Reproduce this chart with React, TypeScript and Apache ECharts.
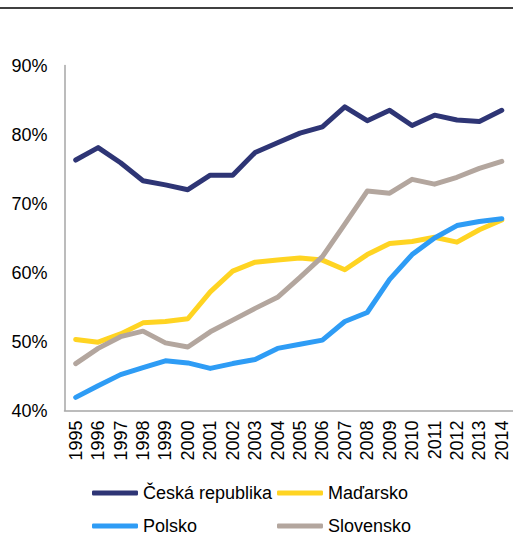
import React, { useEffect, useRef } from "react";
import * as echarts from "echarts";

const years = ["1995","1996","1997","1998","1999","2000","2001","2002","2003","2004","2005","2006","2007","2008","2009","2010","2011","2012","2013","2014"];
const czech = [76.3, 78.1, 75.9, 73.3, 72.7, 72.0, 74.1, 74.1, 77.4, 78.8, 80.2, 81.1, 84.0, 82.0, 83.5, 81.3, 82.8, 82.1, 81.9, 83.5];
const hungary = [50.3, 49.9, 51.1, 52.7, 52.9, 53.3, 57.2, 60.2, 61.5, 61.8, 62.1, 61.8, 60.4, 62.6, 64.2, 64.5, 65.1, 64.4, 66.2, 67.6];
const poland = [41.9, 43.6, 45.2, 46.2, 47.2, 46.9, 46.1, 46.8, 47.4, 49.0, 49.6, 50.2, 52.9, 54.2, 59.0, 62.6, 65.0, 66.8, 67.4, 67.8];
const slovakia = [46.8, 49.0, 50.7, 51.5, 49.8, 49.2, 51.4, 53.1, 54.8, 56.4, 59.3, 62.3, 67.0, 71.8, 71.5, 73.5, 72.8, 73.8, 75.1, 76.1];
const names = ["Česká republika", "Maďarsko", "Polsko", "Slovensko"];
const colors = ["#2E3575", "#FFD422", "#2E9CF5", "#B3A69E"];

const FONT = "'Liberation Sans', Arial, sans-serif";

export default function App() {
  const ref = useRef<HTMLDivElement>(null);
  useEffect(() => {
    if (!ref.current) return;
    const chart = echarts.init(ref.current, null, { renderer: "svg" });
    const datasets = [czech, hungary, poland, slovakia];
    const legendPos = [
      { left: 92, top: 484 },
      { left: 277, top: 484 },
      { left: 92, top: 517 },
      { left: 277, top: 517 },
    ];
    chart.setOption({
      animation: false,
      textStyle: { fontFamily: FONT },
      grid: { left: 64.5, top: 65.5, width: 455, height: 345, containLabel: false },
      xAxis: {
        type: "category",
        data: years,
        boundaryGap: true,
        axisLine: { show: true, lineStyle: { color: "#A6A6A6", width: 1.5 } },
        axisTick: { show: false },
        axisLabel: { rotate: 90, interval: 0, margin: 10, fontSize: 18, color: "#000", fontFamily: FONT },
        splitLine: { show: false },
      },
      yAxis: {
        type: "value",
        min: 40,
        max: 90,
        interval: 10,
        axisLine: { show: true, lineStyle: { color: "#A6A6A6", width: 1.5 } },
        axisTick: { show: false },
        splitLine: { show: false },
        axisLabel: { formatter: "{value}%", fontSize: 18, color: "#000", margin: 17, fontFamily: FONT },
      },
      legend: names.map((n, i) => ({
        data: [n],
        left: legendPos[i].left,
        top: legendPos[i].top,
        padding: 0,
        icon: "roundRect",
        itemWidth: 46,
        itemHeight: 5,
        textStyle: { fontSize: 18, color: "#000", lineHeight: 16, fontFamily: FONT },
        selectedMode: false,
      })),
      graphic: [
        { type: "line", shape: { x1: 0, y1: 8, x2: 513, y2: 8 }, style: { stroke: "#000", lineWidth: 1.5 } },
      ],
      series: names.map((n, i) => ({
        name: n,
        type: "line",
        data: datasets[i],
        symbol: "none",
        color: colors[i],
        lineStyle: { width: 5, color: colors[i], cap: "round", join: "round" },
      })),
    });
    return () => chart.dispose();
  }, []);
  return <div ref={ref} style={{ position: "absolute", left: 0, top: 0, width: 513, height: 536 }} />;
}
